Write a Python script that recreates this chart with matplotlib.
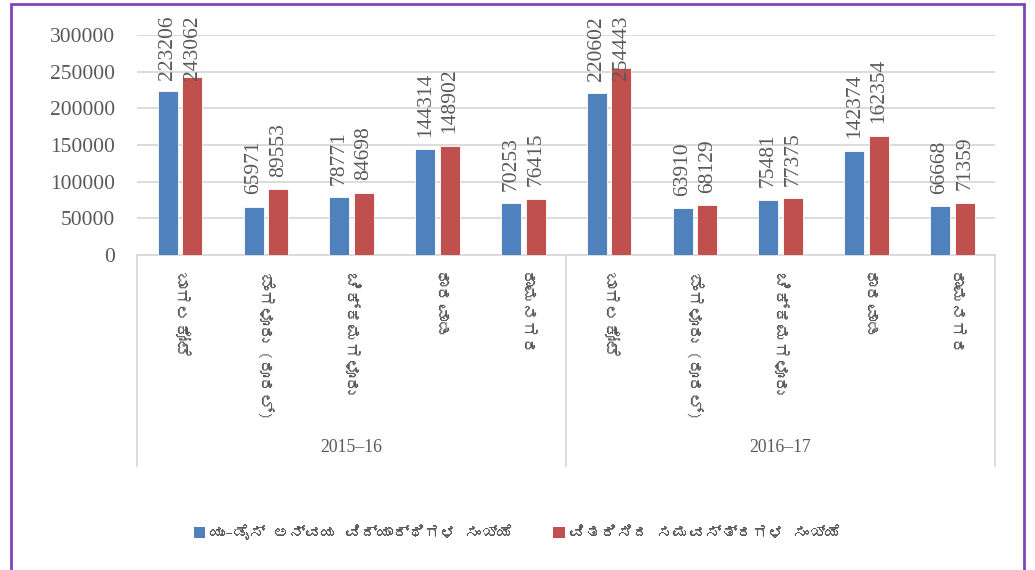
import numpy as np
import matplotlib
matplotlib.use('Agg')
import matplotlib.pyplot as plt
from matplotlib import font_manager
from matplotlib.ft2font import FT2Font
from matplotlib.patches import Rectangle, Patch

# Data
years = ['2015–16', '2016–17']
districts = ['ಬಾಗಲಕೋಟೆ', 'ಬೆಂಗಳೂರು (ರೂರಲ್)', 'ಚಿಕ್ಕಮಗಳೂರು', 'ಧಾರವಾಡ', 'ರಾಮನಗರ']
students = [223206, 65971, 78771, 144314, 70253,
            220602, 63910, 75481, 142374, 66668]
uniforms = [243062, 89553, 84698, 148902, 76415,
            254443, 68129, 77375, 162354, 71359]
series_names = ['ಯು–ಡೈಸ್ ಅನ್ವಯ ವಿದ್ಯಾರ್ಥಿಗಳ ಸಂಖ್ಯೆ', 'ವಿತರಿಸಿದ ಸಮವಸ್ತ್ರಗಳ ಸಂಖ್ಯೆ']


# find a font with kannada glyphs, if there is one
def find_kannada_font():
    for f in font_manager.fontManager.ttflist:
        try:
            if 0x0CB5 in FT2Font(f.fname).get_charmap():
                return f.name
        except Exception:
            pass
    return None


kn_font = find_kannada_font()
kn_family = [kn_font, 'DejaVu Sans'] if kn_font else ['DejaVu Sans']
serif = 'Liberation Serif'
txt_color = '#595959'
blue = '#4F81BD'
red = '#C0504D'

fig = plt.figure(figsize=(10.35, 5.7), dpi=100)
ax = fig.add_axes([137 / 1035, 1 - 255 / 570, (995 - 137) / 1035, 220 / 570])

x = np.arange(len(students))
w = 0.233
b1 = ax.bar(x - 0.14, students, w, color=blue, edgecolor='white', linewidth=0.6, zorder=3)
b2 = ax.bar(x + 0.146, uniforms, w, color=red, edgecolor='white', linewidth=0.6, zorder=3)

ax.set_xlim(-0.5, 9.5)
ax.set_ylim(0, 300000)
ax.set_yticks(np.arange(0, 300001, 50000))
ax.set_yticklabels([str(v) for v in range(0, 300001, 50000)], fontfamily=serif,
                   fontsize=15.5, color=txt_color)
ax.tick_params(axis='y', length=0, pad=16)
ax.grid(axis='y', color='#D9D9D9', linewidth=1.3, zorder=0)
for s in ['top', 'right', 'left']:
    ax.spines[s].set_visible(False)
ax.spines['bottom'].set_color('#D9D9D9')
ax.spines['bottom'].set_linewidth(1.3)

ax.set_xticks(x)
ax.set_xticklabels(districts * 2, rotation=-90, va='top', ha='center',
                   fontfamily=kn_family, fontsize=12.5, color=txt_color)
ax.tick_params(axis='x', length=0, pad=12)

# group separators and year labels
tr = ax.get_xaxis_transform()
for sx in [-0.5, 4.5, 9.5]:
    ax.plot([sx, sx], [0, -211 / 220], transform=tr, color='#D9D9D9',
            linewidth=1.3, clip_on=False)
for i, yr in enumerate(years):
    ax.text(2 + 5 * i, -192 / 220, yr, transform=tr, ha='center', va='center',
            fontfamily=serif, fontsize=12.7, color=txt_color)

# value labels
labels = []
for bars, vals in [(b1, students), (b2, uniforms)]:
    for bar, v in zip(bars, vals):
        t = ax.annotate(str(v), (bar.get_x() + bar.get_width() / 2, v),
                        xytext=(0, 9), textcoords='offset points', rotation=90,
                        ha='center', va='bottom', fontfamily=serif,
                        fontsize=15.5, color=txt_color, annotation_clip=False)
        labels.append(t)

# keep labels inside the chart area at the top
fig.canvas.draw()
r = fig.canvas.get_renderer()
top_px = 570 - 15
for t in labels:
    bb = t.get_window_extent(r)
    if bb.y1 > top_px:
        t.xyann = (0, t.xyann[1] - (bb.y1 - top_px) * 72 / 100)

handles = [Patch(facecolor=blue), Patch(facecolor=red)]
fig.legend(handles, series_names, loc='center', bbox_to_anchor=(0.5, 1 - 532 / 570),
           ncol=2, frameon=False, handlelength=0.7, handleheight=0.7,
           handletextpad=0.3, columnspacing=2.5,
           prop={'family': kn_family, 'size': 11.5}, labelcolor=txt_color)

# purple frame
fig.patches.append(Rectangle((11 / 1035, -0.05), (1024 - 11) / 1035, 1.05 - 4 / 570,
                             transform=fig.transFigure, fill=False,
                             edgecolor='#7F45B8', linewidth=2))

fig.savefig('out.png', dpi=100)
